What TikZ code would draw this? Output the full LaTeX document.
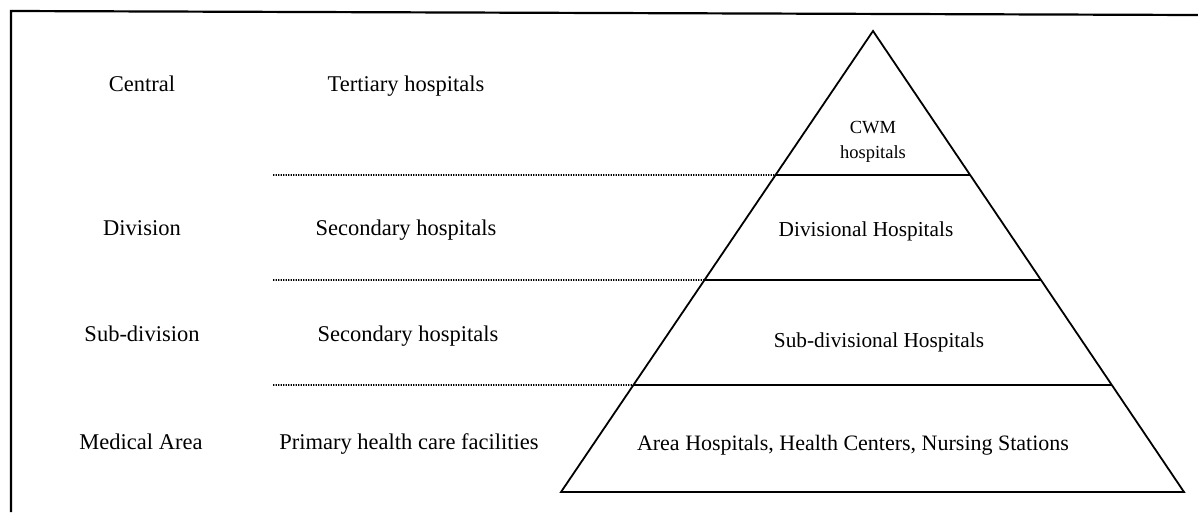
\documentclass[tikz,border=0pt]{standalone}
\usepackage{fontspec}
\setmainfont{Liberation Serif}
\usetikzlibrary{calc}
\begin{document}
\begin{tikzpicture}[x=1pt,y=-1pt,
  frameline/.style={line width=2.2pt},
  tier/.style={line width=1.8pt},
  guide/.style={line width=1.9pt, dash pattern=on 1.4pt off 1.1pt},
  lefttext/.style={font=\fontsize{22.5}{26}\selectfont, inner sep=0pt, anchor=base},
  tiertext/.style={font=\fontsize{21.3}{25}\selectfont, inner sep=0pt, anchor=base},
  toptext/.style={font=\fontsize{18.5}{25}\selectfont, inner sep=0pt, align=center}]
\useasboundingbox (0,0) rectangle (1198,512);
\fill[white] (0,0) rectangle (1198,512);

% outer frame (only top and left edges fall inside the page)
\coordinate (fTL) at (11,11);
\coordinate (fTR) at (1198,15);
\coordinate (fBL) at (11,512);
\draw[frameline] (fBL) -- (fTL) -- (fTR);

% pyramid corners
\coordinate (apex) at (873,31);
\coordinate (bl) at (561,492);
\coordinate (br) at (1184,492);

% tier boundaries on the two slanted sides
\coordinate (l1) at ($(apex)!0.3124!(bl)$);
\coordinate (r1) at ($(apex)!0.3124!(br)$);
\coordinate (l2) at ($(apex)!0.5401!(bl)$);
\coordinate (r2) at ($(apex)!0.5401!(br)$);
\coordinate (l3) at ($(apex)!0.7679!(bl)$);
\coordinate (r3) at ($(apex)!0.7679!(br)$);

\draw[tier, line join=miter] (bl) -- (apex) -- (br) -- cycle;
\draw[tier] (l1) -- (r1);
\draw[tier] (l2) -- (r2);
\draw[tier] (l3) -- (r3);

% dotted guide lines running into the pyramid
\coordinate (g1) at (273,175);
\coordinate (g2) at (273,280);
\coordinate (g3) at (273,385);
\draw[guide] (g1) -- (l1);
\draw[guide] (g2) -- (l2);
\draw[guide] (g3) -- (l3);

% administrative levels
\node[lefttext] (lvl1) at (142,91) {Central};
\node[lefttext] (lvl2) at (142,235) {Division};
\node[lefttext] (lvl3) at (142,341) {Sub-division};
\node[lefttext] (lvl4) at (141,449) {Medical Area};

% hospital categories
\node[lefttext] (cat1) at (406,91) {Tertiary hospitals};
\node[lefttext] (cat2) at (406,235) {Secondary hospitals};
\node[lefttext] (cat3) at (408,341) {Secondary hospitals};
\node[lefttext] (cat4) at (409,449) {Primary health care facilities};

% pyramid tiers
\node[toptext] (t1) at (873,142) {CWM\\hospitals};
\node[tiertext] (t2) at (866,236) {Divisional Hospitals};
\node[tiertext] (t3) at (879,347) {Sub-divisional Hospitals};
\node[tiertext, font=\fontsize{22}{25}\selectfont] (t4) at (853,450) {Area Hospitals, Health Centers, Nursing Stations};
\end{tikzpicture}
\end{document}
